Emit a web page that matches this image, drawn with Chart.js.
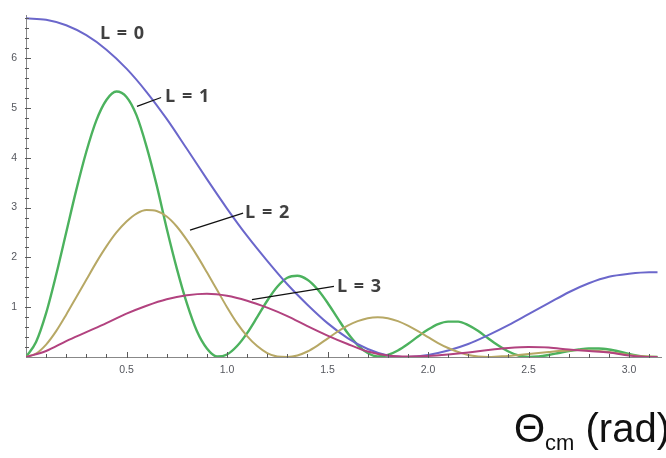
<!DOCTYPE html>
<html>
<head>
<meta charset="utf-8">
<script src="https://cdn.jsdelivr.net/npm/chart.js@4/dist/chart.umd.min.js"></script>
<style>
  html, body { margin: 0; padding: 0; background: #fff; }
  #wrap { position: relative; width: 666px; height: 458px; overflow: hidden; }
  #axisTitle {
    position: absolute; right: -4px; top: 406px;
    font-family: "Liberation Sans", Arial, sans-serif; font-size: 40px; color: #111;
    white-space: nowrap;
  }
  #axisTitle sub { font-size: 22px; vertical-align: -8px; }
</style>
</head>
<body>
<div id="wrap">
  <canvas id="chart" width="666" height="458"></canvas>
  <div id="axisTitle">Θ<sub>cm</sub> (rad)</div>
</div>
<script>
// angle samples (rad)
const thetaCoarse = [0, 0.1, 0.2, 0.3, 0.4, 0.5, 0.6, 0.7, 0.8, 0.9, 1.0, 1.1, 1.2, 1.3, 1.4, 1.5,
  1.6, 1.7, 1.8, 1.9, 2.0, 2.1, 2.2, 2.3, 2.4, 2.5, 2.6, 2.7, 2.8, 2.9, 3.0, 3.1, 3.1416];
const thetaFine = [0, 0.05, 0.1, 0.15, 0.2, 0.25, 0.3, 0.35, 0.4, 0.45, 0.5, 0.55, 0.6, 0.65, 0.7, 0.75,
  0.8, 0.85, 0.9, 0.95, 1.0, 1.05, 1.1, 1.15, 1.2, 1.25, 1.3, 1.35, 1.4, 1.45, 1.5, 1.55,
  1.6, 1.65, 1.7, 1.75, 1.8, 1.85, 1.9, 1.95, 2.0, 2.05, 2.1, 2.15, 2.2, 2.25, 2.3, 2.35,
  2.4, 2.45, 2.5, 2.55, 2.6, 2.65, 2.7, 2.75, 2.8, 2.85, 2.9, 2.95, 3.0, 3.05, 3.1, 3.1416];

// L = 0 (on thetaCoarse)
const l0Values = [6.80, 6.77, 6.66, 6.46, 6.17, 5.79, 5.32, 4.78, 4.18, 3.57, 2.98, 2.43, 1.93, 1.46, 1.05, 0.68,
  0.38, 0.16, 0.03, 0.00, 0.04, 0.13, 0.26, 0.44, 0.64, 0.86, 1.08, 1.30, 1.48, 1.61, 1.67, 1.70, 1.70];
// L = 1 (on thetaFine)
const l1Values = [0, 0.30, 0.88, 1.65, 2.50, 3.35, 4.12, 4.75, 5.16, 5.33, 5.22, 4.85, 4.22, 3.45, 2.58, 1.78,
  1.08, 0.52, 0.17, 0.01, 0.05, 0.22, 0.48, 0.80, 1.13, 1.41, 1.59, 1.63, 1.55, 1.36, 1.09, 0.78,
  0.48, 0.24, 0.08, 0.01, 0.04, 0.13, 0.26, 0.41, 0.55, 0.66, 0.71, 0.71, 0.64, 0.52, 0.37, 0.23,
  0.11, 0.03, 0.00, 0.01, 0.04, 0.08, 0.12, 0.15, 0.17, 0.17, 0.15, 0.11, 0.06, 0.02, 0.00, 0.00];
// L = 2 (on thetaFine)
const l2Values = [0, 0.07, 0.25, 0.52, 0.85, 1.20, 1.55, 1.90, 2.22, 2.50, 2.72, 2.88, 2.95, 2.93, 2.82, 2.62,
  2.35, 2.04, 1.70, 1.35, 1.00, 0.68, 0.42, 0.22, 0.08, 0.01, 0.00, 0.03, 0.11, 0.23, 0.37, 0.51,
  0.63, 0.72, 0.78, 0.80, 0.78, 0.72, 0.63, 0.52, 0.40, 0.28, 0.18, 0.10, 0.04, 0.01, 0.00, 0.01,
  0.02, 0.04, 0.06, 0.08, 0.10, 0.12, 0.13, 0.14, 0.13, 0.12, 0.10, 0.07, 0.04, 0.02, 0.01, 0.00];
// L = 3 (on thetaCoarse)
const l3Values = [0, 0.12, 0.32, 0.50, 0.68, 0.87, 1.03, 1.16, 1.24, 1.27, 1.23, 1.13, 0.99, 0.82, 0.62, 0.43,
  0.26, 0.11, 0.03, 0.01, 0.02, 0.05, 0.09, 0.14, 0.18, 0.20, 0.19, 0.15, 0.12, 0.09, 0.03, 0.00, 0.00];

const seriesNames = ['L = 0', 'L = 1', 'L = 2', 'L = 3'];
const xTickLabels = [0.5, 1.0, 1.5, 2.0, 2.5, 3.0];
const yTickLabels = [1, 2, 3, 4, 5, 6];

const toPoints = (xs, ys) => xs.map((x, i) => ({ x: x, y: ys[i] }));

// callouts, in data units
const callouts = [
  { text: seriesNames[0], at: [0.368, 6.49], leader: null },
  { text: seriesNames[1], at: [0.692, 5.23], leader: [[0.552, 5.03], [0.672, 5.21]] },
  { text: seriesNames[2], at: [1.09, 2.90], leader: [[0.816, 2.545], [1.08, 2.89]] },
  { text: seriesNames[3], at: [1.547, 1.41], leader: [[1.124, 1.153], [1.532, 1.42]] }
];

const isLabelled = (list, v) => list.some(t => Math.abs(t - v) < 1e-6);

const decor = {
  id: 'decor',
  afterDraw(chart) {
    const { ctx } = chart;
    const xs = chart.scales.x, ys = chart.scales.y;
    const area = chart.chartArea;
    ctx.save();
    ctx.strokeStyle = '#5a5a5a';
    ctx.lineWidth = 1;
    // inward ticks (Mathematica style)
    xs.ticks.forEach(t => {
      if (t.value <= 0) return;
      const px = Math.round(xs.getPixelForValue(t.value)) + 0.5;
      const len = isLabelled(xTickLabels, t.value) ? 5 : 3;
      ctx.beginPath();
      ctx.moveTo(px, area.bottom + 1);
      ctx.lineTo(px, area.bottom - len);
      ctx.stroke();
    });
    ys.ticks.forEach(t => {
      if (t.value <= 0) return;
      const py = Math.round(ys.getPixelForValue(t.value)) + 0.5;
      const len = isLabelled(yTickLabels, t.value) ? 5 : 3;
      ctx.beginPath();
      ctx.moveTo(area.left - 1, py);
      ctx.lineTo(area.left + len, py);
      ctx.stroke();
    });
    // callouts
    ctx.strokeStyle = '#111';
    ctx.lineWidth = 1.3;
    ctx.fillStyle = '#404040';
    ctx.font = 'bold 18px "Open Sans", "Liberation Sans", sans-serif';
    ctx.letterSpacing = '1px';
    ctx.textBaseline = 'middle';
    ctx.textAlign = 'left';
    callouts.forEach(c => {
      if (c.leader) {
        ctx.beginPath();
        ctx.moveTo(xs.getPixelForValue(c.leader[0][0]), ys.getPixelForValue(c.leader[0][1]));
        ctx.lineTo(xs.getPixelForValue(c.leader[1][0]), ys.getPixelForValue(c.leader[1][1]));
        ctx.stroke();
      }
      ctx.fillText(c.text, xs.getPixelForValue(c.at[0]), ys.getPixelForValue(c.at[1]));
    });
    ctx.restore();
  }
};

const lineStyle = (color, width) => ({
  borderColor: color, backgroundColor: color, borderWidth: width,
  pointRadius: 0, showLine: true, fill: false, cubicInterpolationMode: 'monotone'
});

new Chart(document.getElementById('chart'), {
  type: 'scatter',
  data: {
    datasets: [
      { label: seriesNames[3], data: toPoints(thetaCoarse, l3Values), ...lineStyle('#b2427f', 2) },
      { label: seriesNames[2], data: toPoints(thetaFine, l2Values), ...lineStyle('#b7a865', 2) },
      { label: seriesNames[0], data: toPoints(thetaCoarse, l0Values), ...lineStyle('#6b67cb', 2) },
      { label: seriesNames[1], data: toPoints(thetaFine, l1Values), ...lineStyle('#4cb25e', 2.4) }
    ]
  },
  options: {
    responsive: false,
    animation: false,
    layout: { padding: { top: 12, right: 5, left: 0, bottom: 0 } },
    plugins: { legend: { display: false }, tooltip: { enabled: false } },
    scales: {
      x: {
        type: 'linear', min: 0, max: 3.159,
        afterFit: s => { s.height = 101; },
        grid: { display: false, drawTicks: false },
        border: { display: true, color: '#888', width: 1 },
        ticks: {
          stepSize: 0.1, maxTicksLimit: 100, autoSkip: false, includeBounds: false,
          maxRotation: 0, padding: 7, color: '#55575e',
          font: { family: '"Liberation Sans", sans-serif', size: 10.5 },
          callback: v => isLabelled(xTickLabels, v) ? v.toFixed(1) : ''
        }
      },
      y: {
        type: 'linear', min: 0, max: 6.86,
        afterFit: s => { s.width = 26; },
        grid: { display: false, drawTicks: false },
        border: { display: true, color: '#888', width: 1 },
        ticks: {
          stepSize: 0.2, maxTicksLimit: 100, autoSkip: false, includeBounds: false,
          padding: 9, color: '#55575e',
          font: { family: '"Liberation Sans", sans-serif', size: 10.5 },
          callback: v => isLabelled(yTickLabels, v) ? String(Math.round(v)) : ''
        }
      }
    }
  },
  plugins: [decor]
});
</script>
</body>
</html>
